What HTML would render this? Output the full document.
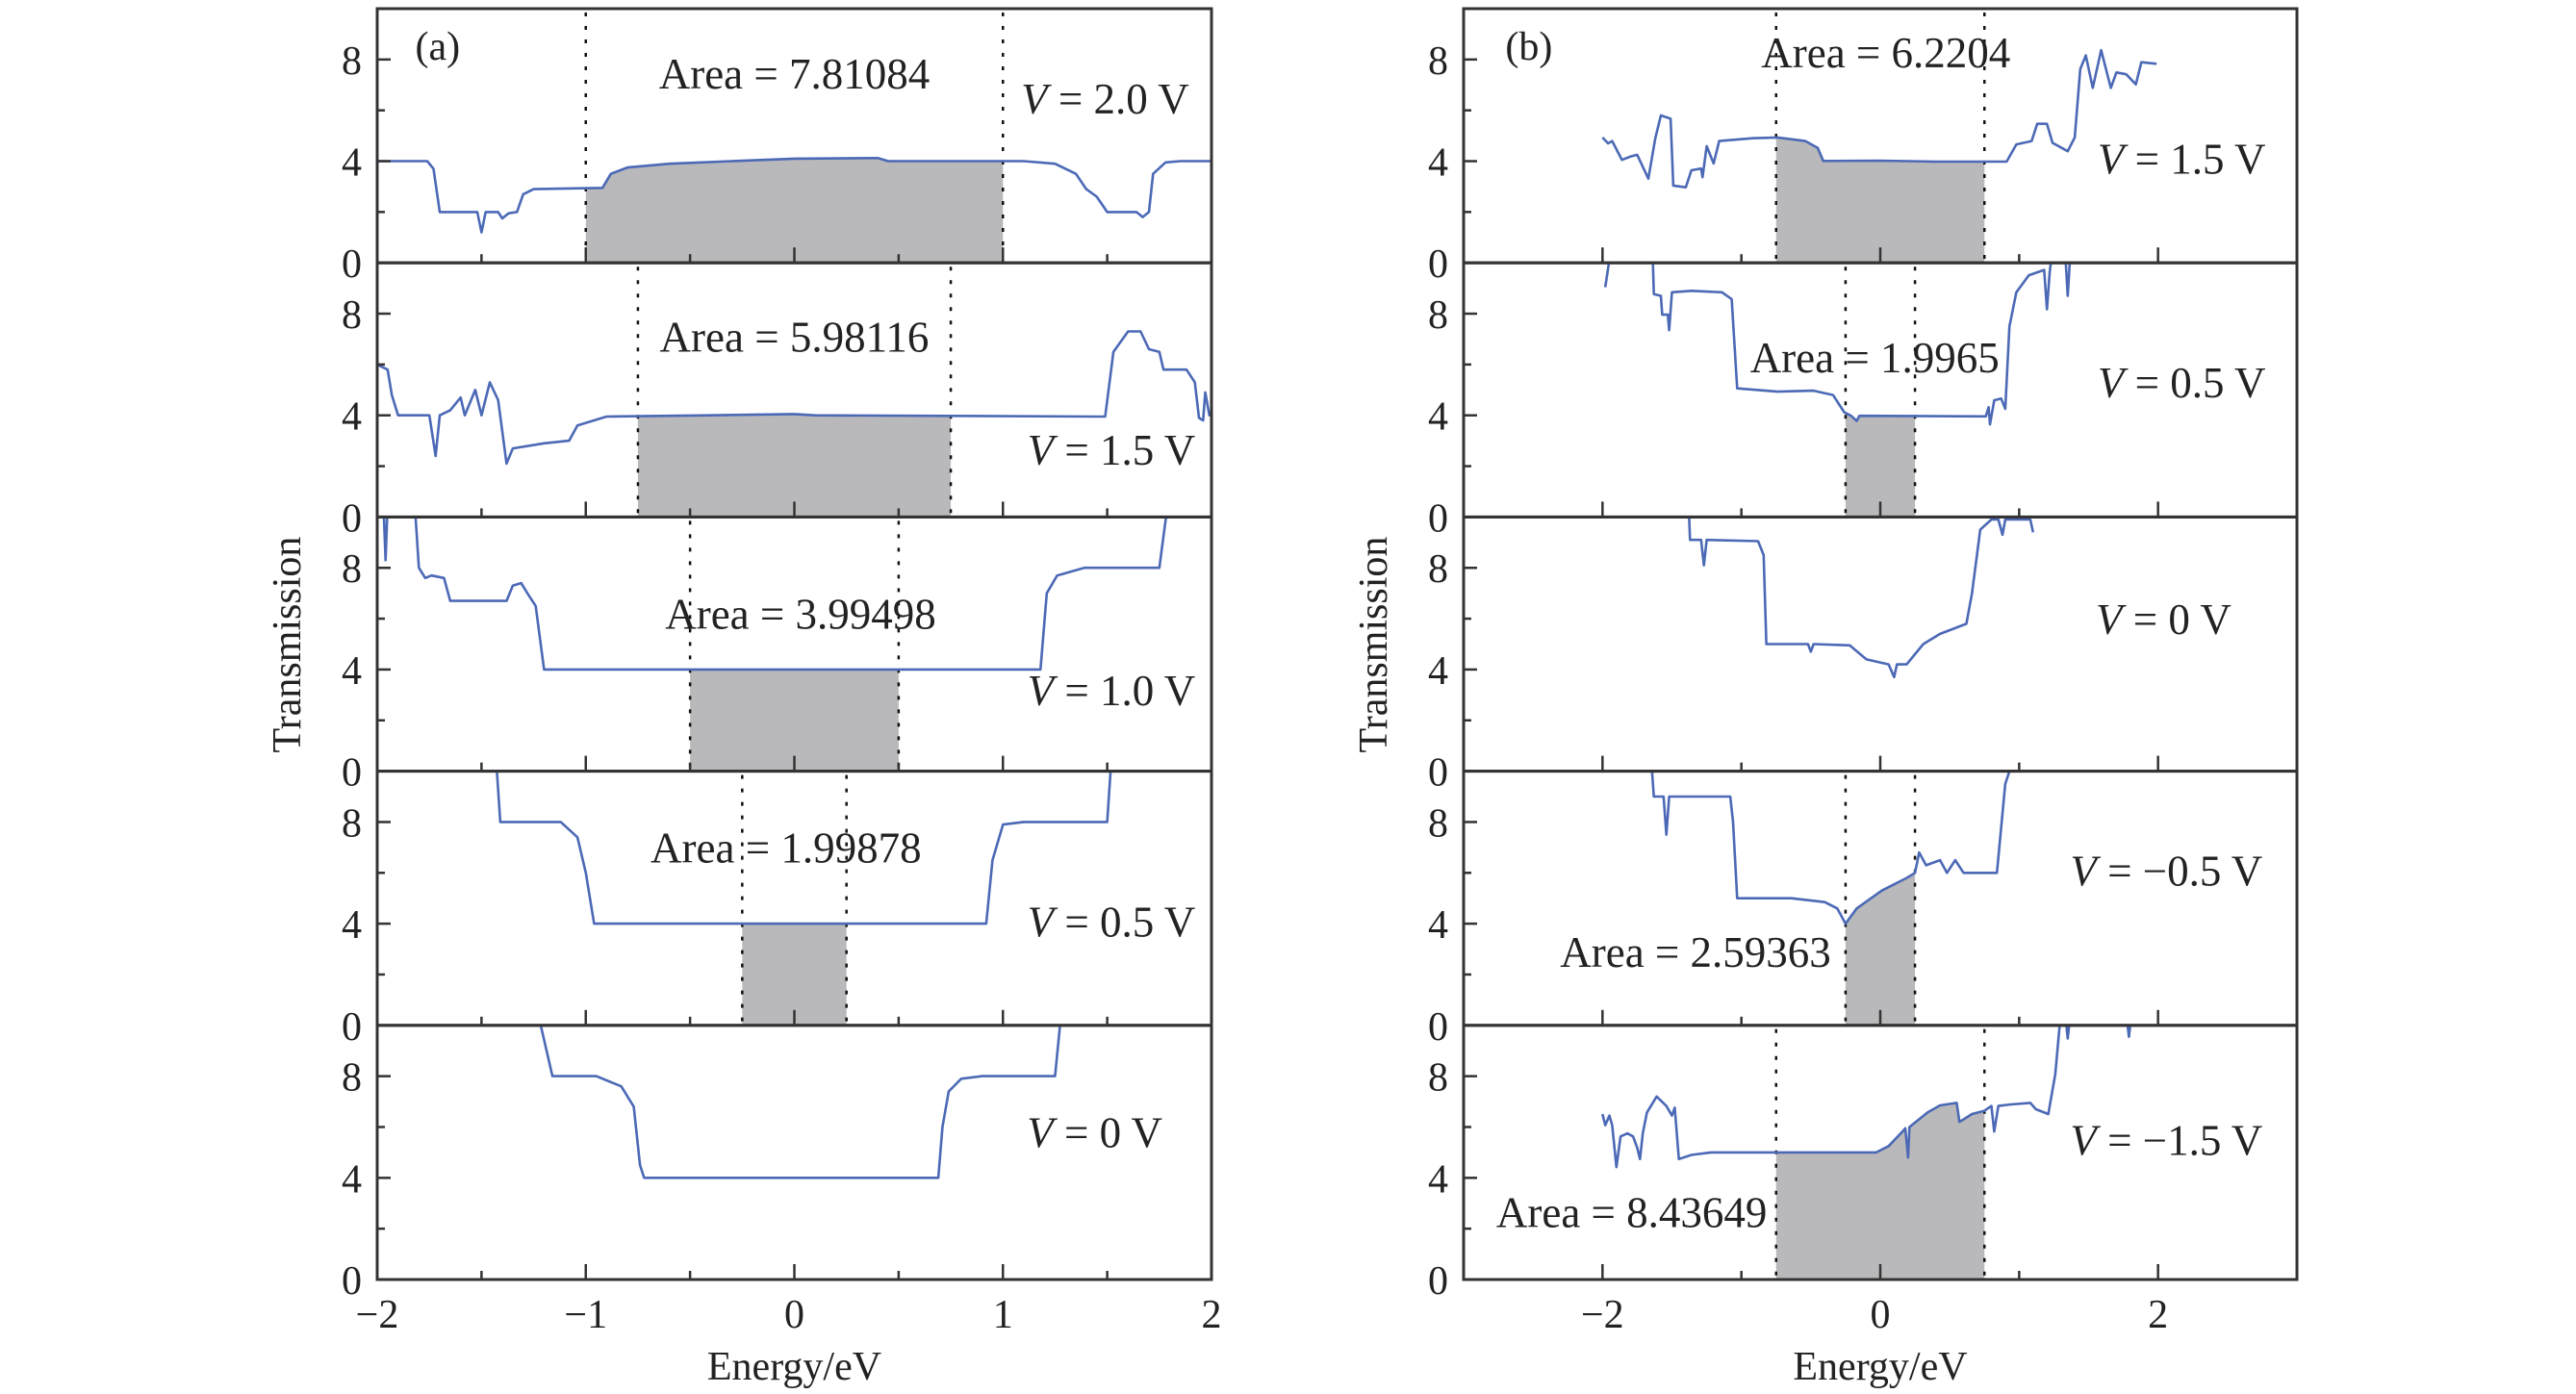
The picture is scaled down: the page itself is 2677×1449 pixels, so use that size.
<!DOCTYPE html>
<html><head><meta charset="utf-8"><style>
html,body{margin:0;padding:0;background:#fff}
svg{display:block}
text{font-family:"Liberation Serif",serif;fill:#222}
</style></head><body>
<svg id="fig" width="2677" height="1449" viewBox="0 0 2677 1449" xmlns="http://www.w3.org/2000/svg"></svg>
<script>
// ---- data ----
const panelVoltagesA = ["2.0","1.5","1.0","0.5","0"];
const panelVoltagesB = ["1.5","0.5","0","\u22120.5","\u22121.5"];
const areaLabelsA = ["7.81084","5.98116","3.99498","1.99878",null];
const areaLabelsB = ["6.2204","1.9965",null,"2.59363","8.43649"];
const boundsA = [[-1,1],[-0.75,0.75],[-0.5,0.5],[-0.25,0.25],null];
const boundsB = [[-0.75,0.75],[-0.25,0.25],null,[-0.25,0.25],[-0.75,0.75]];
const xTicksA = [-2,-1,0,1,2];
const xTicksB = [-2,0,2];
const yTickLabels = [0,4,8];
const curveA1 = [[-2,4],[-1.76,4],[-1.73,3.7],[-1.7,2.0],[-1.52,2.0],[-1.5,1.2],[-1.48,2.0],[-1.42,2.0],[-1.4,1.75],[-1.37,1.95],[-1.33,2.0],[-1.3,2.7],[-1.25,2.9],[-0.92,2.95],[-0.88,3.5],[-0.8,3.75],[-0.6,3.9],[-0.3,4.0],[0,4.1],[0.4,4.12],[0.45,4.0],[1.1,4.0],[1.25,3.9],[1.35,3.5],[1.4,2.9],[1.45,2.6],[1.5,2.0],[1.64,2.0],[1.67,1.8],[1.7,2.0],[1.72,3.5],[1.78,3.95],[1.85,4.0],[2,4.0]];
const curveA2 = [[-2,6.0],[-1.95,5.8],[-1.93,4.8],[-1.9,4.0],[-1.75,4.0],[-1.72,2.4],[-1.7,4.0],[-1.65,4.2],[-1.6,4.7],[-1.58,4.0],[-1.53,5.0],[-1.5,4.0],[-1.46,5.3],[-1.42,4.6],[-1.38,2.1],[-1.35,2.7],[-1.2,2.9],[-1.08,3.0],[-1.04,3.6],[-0.9,3.95],[-0.4,4.0],[0,4.05],[0.1,4.0],[1.45,3.95],[1.49,3.95],[1.53,6.5],[1.6,7.3],[1.66,7.3],[1.7,6.6],[1.75,6.5],[1.77,5.8],[1.88,5.8],[1.92,5.3],[1.94,3.9],[1.96,3.8],[1.97,4.9],[1.99,4.0],[2,4.0]];
const curveA3 = [[-1.97,10.5],[-1.96,8.3],[-1.95,10.5],null,[-1.82,10.5],[-1.8,8.0],[-1.77,7.6],[-1.74,7.7],[-1.68,7.6],[-1.65,6.7],[-1.38,6.7],[-1.35,7.3],[-1.31,7.4],[-1.28,7.0],[-1.24,6.5],[-1.2,4.0],[1.18,4.0],[1.21,7.0],[1.26,7.7],[1.39,8.0],[1.75,8.0],[1.79,10.5]];
const curveA4 = [[-1.43,10.5],[-1.41,8.0],[-1.12,8.0],[-1.04,7.4],[-1.0,6.0],[-0.96,4.0],[0.92,4.0],[0.95,6.5],[1.0,7.9],[1.1,8.0],[1.5,8.0],[1.52,10.5]];
const curveA5 = [[-1.23,10.5],[-1.16,8.0],[-0.95,8.0],[-0.83,7.6],[-0.77,6.8],[-0.74,4.5],[-0.72,4.0],[0.69,4.0],[0.71,6.0],[0.74,7.4],[0.8,7.9],[0.9,8.0],[1.25,8.0],[1.28,10.5]];
const curveB1 = [[-2.0,4.93],[-1.96,4.7],[-1.93,4.79],[-1.86,4.05],[-1.8,4.18],[-1.75,4.25],[-1.67,3.31],[-1.62,4.9],[-1.58,5.8],[-1.51,5.67],[-1.49,3.04],[-1.4,2.97],[-1.36,3.64],[-1.29,3.71],[-1.28,3.37],[-1.25,4.59],[-1.2,3.91],[-1.16,4.79],[-0.92,4.9],[-0.74,4.93],[-0.54,4.79],[-0.45,4.52],[-0.41,4.01],[0.0,4.02],[0.4,3.98],[0.91,3.98],[0.98,4.66],[1.09,4.79],[1.13,5.47],[1.2,5.47],[1.24,4.72],[1.35,4.39],[1.4,4.93],[1.44,7.62],[1.48,8.16],[1.53,6.88],[1.59,8.37],[1.66,6.88],[1.7,7.49],[1.77,7.42],[1.84,7.02],[1.88,7.89],[1.99,7.83]];
const curveB2 = [[-1.98,9.04],[-1.94,10.5],null,[-1.64,10.5],[-1.63,8.77],[-1.58,8.7],[-1.57,7.96],[-1.53,7.96],[-1.52,7.35],[-1.5,8.84],[-1.36,8.9],[-1.14,8.84],[-1.07,8.57],[-1.03,5.06],[-0.74,4.93],[-0.48,4.97],[-0.34,4.8],[-0.26,4.12],[-0.21,3.98],[-0.17,3.78],[-0.15,3.98],[0.76,3.96],[0.78,4.32],[0.79,3.64],[0.82,4.59],[0.87,4.66],[0.9,4.26],[0.93,7.49],[0.98,8.84],[1.07,9.51],[1.18,9.72],[1.2,8.17],[1.22,9.65],[1.24,10.5],null,[1.33,10.5],[1.35,8.7],[1.37,10.5]];
const curveB3 = [[-1.38,10.5],[-1.37,9.1],[-1.29,9.1],[-1.27,8.1],[-1.25,9.1],[-0.88,9.05],[-0.84,8.5],[-0.82,5.0],[-0.52,5.0],[-0.5,4.7],[-0.48,5.0],[-0.22,4.95],[-0.1,4.4],[0.06,4.2],[0.1,3.7],[0.12,4.2],[0.19,4.2],[0.31,5.0],[0.43,5.4],[0.62,5.8],[0.66,7.0],[0.72,9.5],[0.8,9.9],[0.85,9.9],[0.88,9.3],[0.9,9.9],[1.08,9.9],[1.1,9.4]];
const curveB4 = [[-1.65,10.5],[-1.63,9.0],[-1.56,9.0],[-1.54,7.5],[-1.52,9.0],[-1.08,9.0],[-1.06,8.0],[-1.03,5.0],[-0.64,5.0],[-0.4,4.85],[-0.31,4.6],[-0.25,4.0],[-0.17,4.6],[0.01,5.3],[0.19,5.8],[0.25,6.0],[0.28,6.8],[0.33,6.3],[0.43,6.5],[0.48,6.0],[0.54,6.5],[0.6,6.0],[0.84,6.0],[0.9,9.5],[0.96,10.5]];
const curveB5 = [[-2.0,6.51],[-1.98,6.07],[-1.95,6.45],[-1.93,6.07],[-1.9,4.42],[-1.87,5.63],[-1.82,5.75],[-1.78,5.63],[-1.75,5.18],[-1.73,4.74],[-1.71,5.75],[-1.68,6.57],[-1.61,7.2],[-1.54,6.83],[-1.5,6.45],[-1.48,6.76],[-1.45,4.74],[-1.36,4.9],[-1.22,5.0],[-0.03,5.0],[0.06,5.25],[0.16,5.82],[0.18,5.95],[0.2,4.8],[0.21,6.0],[0.34,6.57],[0.43,6.85],[0.55,6.95],[0.57,6.2],[0.66,6.51],[0.75,6.64],[0.8,6.83],[0.82,5.82],[0.85,6.83],[0.94,6.89],[1.08,6.95],[1.12,6.7],[1.21,6.51],[1.26,8.09],[1.3,10.5],null,[1.33,10.5],[1.35,9.48],[1.37,10.5],null,[1.77,10.5],[1.79,9.55],[1.81,10.5]];
const curvesA = [curveA1,curveA2,curveA3,curveA4,curveA5];
const curvesB = [curveB1,curveB2,curveB3,curveB4,curveB5];
// label placements in data coordinates
const areaPosA = [[0.0,6.85],[0.0,6.5],[0.03,5.6],[-0.04,6.4],null];
const areaPosB = [[0.04,7.7],[-0.04,5.7],null,[-1.33,2.3],[-1.79,2.06]];
const vPosA = [[1.49,5.87],[1.52,2.06],[1.52,2.6],[1.52,3.5],[1.44,5.2]];
const vPosB = [[2.17,3.5],[2.17,4.7],[2.04,5.4],[2.06,5.5],[2.06,4.9]];

// ---- layout ----
const NS="http://www.w3.org/2000/svg";
const svg=document.getElementById('fig');
const TOP=9,BOT=1330,PH=(BOT-TOP)/5;
const A={x0:392,x1:1259,xmin:-2,xmax:2,minor:0.5,ticks:xTicksA,name:'a'};
const B={x0:1521,x1:2387,xmin:-3,xmax:3,minor:1,ticks:xTicksB,name:'b'};
function mk(tag,attrs,parent){const e=document.createElementNS(NS,tag);for(const k in attrs)e.setAttribute(k,attrs[k]);(parent||svg).appendChild(e);return e;}
function sx(P,E){return P.x0+(E-P.xmin)/(P.xmax-P.xmin)*(P.x1-P.x0);}
function sy(i,T){const b=TOP+PH*(i+1);return b-T/10*PH;}
function interp(c,x){for(let k=0;k<c.length-1;k++){const p=c[k],q=c[k+1];if(!p||!q)continue;if(x>=p[0]&&x<=q[0]){return p[1]+(q[1]-p[1])*(x-p[0])/(q[0]-p[0]);}}return 0;}

function drawPanel(P,i,curve,bounds,areaTxt,areaPos,vTxt,vPos,letter){
  const g=mk('g',{});
  
  
  const top=TOP+PH*i,bot=top+PH;
  const cid='clip-'+P.name+i;
  const cp=mk('clipPath',{id:cid},g);mk('rect',{x:P.x0,y:top,width:P.x1-P.x0,height:PH},cp);
  if(bounds){
    const [lo,hi]=bounds;let pts=[[lo,interp(curve,lo)]];
    curve.forEach(p=>{if(p&&p[0]>lo&&p[0]<hi)pts.push(p);});
    pts.push([hi,interp(curve,hi)]);
    let d='M'+sx(P,lo)+','+sy(i,0);
    pts.forEach(p=>{d+=' L'+sx(P,p[0]).toFixed(1)+','+sy(i,p[1]).toFixed(1);});
    d+=' L'+sx(P,hi)+','+sy(i,0)+'Z';
    const f=mk('path',{d:d,fill:'#b9b9bb','clip-path':'url(#'+cid+')'},g);
    
    
    bounds.forEach(b=>{
      const l=mk('line',{x1:sx(P,b),x2:sx(P,b),y1:top+4,y2:bot,stroke:'#111','stroke-width':2.5,'stroke-dasharray':'4 10'},g);
      
      
    });
  }
  let d='',pen=false;
  curve.forEach(p=>{if(!p){pen=false;return;}d+=(pen?' L':' M')+sx(P,p[0]).toFixed(1)+','+sy(i,p[1]).toFixed(1);pen=true;});
  const c=mk('path',{d:d,fill:'none',stroke:'#4c69b6','stroke-width':2.6,'stroke-linejoin':'round','clip-path':'url(#'+cid+')'},g);
  
  
  const fr=mk('rect',{x:P.x0,y:top,width:P.x1-P.x0,height:PH,fill:'none',stroke:'#333','stroke-width':3},g);
  
  
  for(let E=P.xmin;E<=P.xmax+1e-9;E+=P.minor){
    if(Math.abs(E-P.xmin)<1e-9||Math.abs(E-P.xmax)<1e-9)continue;
    const major=P.ticks.some(t=>Math.abs(t-E)<1e-9)||Math.abs(E-Math.round(E))<1e-9&&P.name==='a';
    const len=major?16:9;
    mk('line',{x1:sx(P,E),x2:sx(P,E),y1:bot,y2:bot-len,stroke:'#333','stroke-width':2.5},g);
  }
  [2,4,6,8].forEach(t=>{mk('line',{x1:P.x0,x2:P.x0+(t%4===0?14:8),y1:sy(i,t),y2:sy(i,t),stroke:'#333','stroke-width':2.5},g);});
  yTickLabels.forEach(t=>{
    const tx=mk('text',{x:P.x0-16,y:sy(i,t)+15,'font-size':42,'text-anchor':'end'},g);tx.textContent=t;
    
    
  });
  if(areaTxt){
    const t=mk('text',{x:sx(P,areaPos[0]),y:sy(i,areaPos[1]),'font-size':45,'text-anchor':'middle'},g);
    t.textContent='Area = '+areaTxt;
    
    
  }
  const vt=mk('text',{x:sx(P,vPos[0]),y:sy(i,vPos[1]),'font-size':45,'text-anchor':'middle'},g);
  vt.innerHTML='<tspan font-style="italic">V</tspan> = '+vTxt+' V';
  
  
  if(letter){
    const lt=mk('text',{x:sx(P,letter[1]),y:sy(i,8.0),'font-size':42,'text-anchor':'middle'},g);
    lt.textContent=letter[0];
    
    
  }
}
for(let i=0;i<5;i++){
  drawPanel(A,i,curvesA[i],boundsA[i],areaLabelsA[i],areaPosA[i],panelVoltagesA[i],vPosA[i],i===0?['(a)',-1.71]:null);
  drawPanel(B,i,curvesB[i],boundsB[i],areaLabelsB[i],areaPosB[i],panelVoltagesB[i],vPosB[i],i===0?['(b)',-2.53]:null);
}
[A,B].forEach(P=>{
  P.ticks.forEach(t=>{
    const tx=mk('text',{x:sx(P,t),y:1380,'font-size':42,'text-anchor':'middle'});
    tx.textContent=t<0?'\u2212'+(-t):String(t);
    
    
  });
  const xl=mk('text',{x:(P.x0+P.x1)/2,y:1434,'font-size':42,'text-anchor':'middle'});
  xl.textContent='Energy/eV';
  
  
  const yx=P.x0-80,yy=670;
  const yl=mk('text',{x:yx,y:yy,'font-size':42,'text-anchor':'middle',transform:'rotate(-90 '+yx+' '+yy+')'});
  yl.textContent='Transmission';
  
  
});
</script>
</body></html>
